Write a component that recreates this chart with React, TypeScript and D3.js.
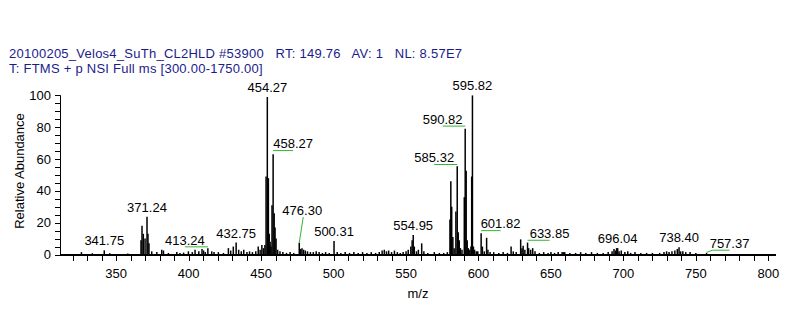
import React from "react";
import * as d3 from "d3";

const headerLine1 = "20100205_Velos4_SuTh_CL2HLD #53900   RT: 149.76   AV: 1   NL: 8.57E7";
const headerLine2 = "T: FTMS + p NSI Full ms [300.00-1750.00]";
const xAxisTitle = "m/z";
const yAxisTitle = "Relative Abundance";
const xMajorTicks = [350, 400, 450, 500, 550, 600, 650, 700, 750, 800];
const yMajorTicks = [0, 20, 40, 60, 80, 100];

const peakMz = [
  326.0, 333.5, 341.75, 345.5, 358, 367.1, 367.8, 368.7, 369.9, 371.24, 371.9, 372.6, 374.5, 378, 381.4, 382.6,
  386, 391.8, 394, 396.5, 399.8, 402.5, 404.4, 407, 409.2, 410.3, 411.5, 413.24, 415.9, 417.5, 420.5, 424,
  427.4, 429, 430.8, 432.75, 434.5, 436.3, 438, 440.2, 442, 444, 446.3, 448, 449.3, 450.5, 451.6, 452.6,
  453.4, 454.27, 455.0, 455.6, 456.2, 456.8, 457.5, 458.27, 459.0, 459.6, 460.3, 461.4, 463, 465, 467.5, 470,
  472.5, 476.3, 477.3, 478.2, 479.3, 480.5, 482, 484, 486, 488, 490, 492.3, 494.5, 497, 500.31, 502.5,
  505, 508, 511, 514, 517, 520, 523, 526, 529, 531.5, 533.5, 535, 536.5, 538, 540, 542,
  544, 546, 548, 550, 551.5, 553.3, 554.2, 554.95, 555.7, 557.2, 558.5, 560.8, 562.3, 565, 569.5, 573,
  576, 578.5, 580.3, 580.9, 581.5, 582.3, 583.2, 584.4, 585.32, 586.0, 586.7, 587.5, 588.6, 590.2, 590.82, 591.5,
  592.2, 593, 594, 594.8, 595.3, 595.82, 596.5, 597.3, 598.5, 599.5, 601.82, 602.7, 604, 605.6, 606.5, 608,
  610.5, 614, 617, 620, 622.5, 624, 626, 629.1, 630, 630.8, 632, 633.85, 634.6, 636, 637.4, 639,
  642, 645, 648, 650, 652.5, 655, 657.7, 658.7, 659.5, 663, 667, 670.5, 674, 678, 682, 686,
  689.5, 692.2, 693.5, 694.5, 695.3, 696.04, 697, 698.5, 701, 703, 705, 708, 712, 716, 720, 725,
  728, 729.8, 731.5, 733.5, 735.5, 737.2, 738.4, 739.5, 741, 743, 746, 750, 757.37,
];

const peakAbundance = [
  1.5, 0.8, 2.6, 0.8, 0.6, 9, 18, 13, 10, 23.7, 13, 7, 2, 1.5, 3, 2.5,
  1, 1.5, 1, 1.2, 2, 1.5, 3, 2, 3.5, 2.5, 1.5, 4, 2, 1.5, 1.5, 1,
  4, 2.5, 5, 7.5, 3, 2, 3, 1.5, 2, 1.5, 2, 5, 3, 6, 4, 6,
  49, 99, 48, 13, 8, 5, 31, 63, 26, 17, 10, 3, 2, 1.5, 1, 1.5,
  1, 7.4, 3.5, 4, 3, 2.5, 2, 1.5, 1.5, 2, 1.5, 1, 1.5, 1, 8.5, 1.5,
  1, 1.5, 1, 1.5, 1, 1.5, 1, 1.5, 1, 1.5, 2.5, 3, 2, 2.5, 1.5, 2.5,
  1.5, 1, 1.5, 2, 3, 5, 9, 12.2, 5, 2, 3, 7, 2, 1, 1.5, 1,
  1, 1.5, 22, 46, 30, 11, 4, 27, 55.5, 14, 9, 4, 3, 36, 79, 52.6,
  9, 4, 3, 5, 49, 100, 5, 3, 2, 2, 13.3, 5, 2, 10.5, 3, 1.5,
  1.5, 1, 1.5, 1, 5, 2, 1.5, 9.5, 4, 5.5, 3, 7.5, 4, 3, 4, 2,
  1, 1.5, 1, 1.5, 1, 1.5, 1.5, 1.5, 1.5, 1, 1, 1.5, 1, 1.5, 1, 1,
  1.5, 2, 3.5, 2.5, 4, 4, 2, 2.5, 1.5, 2, 1, 1.5, 1, 1, 1, 1,
  1.5, 2, 1.5, 2, 2.5, 3.5, 4.5, 2, 2, 1.5, 1.5, 1, 1,
];

const labeledMz = [
  341.75, 371.24, 413.24, 432.75, 454.27, 458.27, 476.3, 500.31, 554.95,
  585.32, 590.82, 595.82, 601.82, 633.85, 696.04, 738.4, 757.37,
];

// label placement (layout only, in px relative to the peak top)
const labelLayout: Record<string, { dx: number; dy: number; leader?: "h" | "slant" | "hook" }> = {
  "413.24": { dx: -23, dy: -3.6, leader: "h" },
  "458.27": { dx: 20, dy: -6, leader: "h" },
  "476.30": { dx: 3, dy: -28, leader: "slant" },
  "585.32": { dx: -23, dy: -4, leader: "h" },
  "590.82": { dx: -22.6, dy: -5, leader: "h" },
  "601.82": { dx: 19.4, dy: -5, leader: "h" },
  "633.85": { dx: 22, dy: -4.6, leader: "h" },
  "757.37": { dx: 23, dy: -5, leader: "hook" },
};

const W = 805;
const H = 316;
const FONT = "'Liberation Sans', Arial, sans-serif";
const HEADER_COLOR = "#1b1b8c";
const LEADER_COLOR = "#33b533";

export default function App() {
  const x = d3.scaleLinear().domain([311.2, 805.3]).range([60, 776]);
  const y = d3.scaleLinear().domain([0, 100]).range([254.5, 95.4]);

  const minorX = d3.range(320, 810, 10);
  const minorY = d3.range(0, 101, 5);

  const peaks = peakMz.map((m, i) => ({ m, v: peakAbundance[i] }));

  const labels = labeledMz.map((m) => {
    const idx = peakMz.findIndex((p) => Math.abs(p - m) < 1e-6);
    const v = peakAbundance[idx];
    const key = m.toFixed(2);
    const lay = labelLayout[key] || { dx: 0, dy: -5 };
    const px = x(m);
    const top = y(v);
    const lx = px + lay.dx;
    const by = top + lay.dy;
    let leader: string | null = null;
    const ly = by + 2.3;
    if (lay.leader === "h") leader = `M${px},${ly}L${lx},${ly}`;
    else if (lay.leader === "slant") leader = `M${px},${top}L${lx + 1},${ly}`;
    else if (lay.leader === "hook") leader = `M${px},${top - 0.5}L${px + 6},${ly}L${lx},${ly}`;
    return { key, lx, by, leader };
  });

  return (
    <svg
      width={W}
      height={H}
      style={{ position: "absolute", left: 0, top: 0, background: "#fff" }}
      fontFamily={FONT}
    >
      <rect x={0} y={0} width={W} height={H} fill="#fff" />
      <text x={9} y={58} fontSize={13} fill={HEADER_COLOR} letterSpacing={0.25} style={{ whiteSpace: "pre" }}>
        {headerLine1}
      </text>
      <text x={9} y={72.6} fontSize={13} fill={HEADER_COLOR} letterSpacing={0.25} style={{ whiteSpace: "pre" }}>
        {headerLine2}
      </text>

      {/* spectrum */}
      <g stroke="#000" strokeWidth={1.5}>
        {peaks.map((p, i) => (
          <line key={i} x1={x(p.m)} x2={x(p.m)} y1={y(0)} y2={y(p.v)} />
        ))}
      </g>

      {/* y axis */}
      <line x1={60.5} x2={60.5} y1={y(100)} y2={255} stroke="#000" strokeWidth={1} />
      <g stroke="#000" strokeWidth={1}>
        {minorY.map((t) => (
          <line key={t} x1={55} x2={60.5} y1={Math.round(y(t)) + 0.5} y2={Math.round(y(t)) + 0.5} />
        ))}
      </g>
      {yMajorTicks.map((t) => (
        <text key={t} x={51} y={y(t) + 4.6} fontSize={13} textAnchor="end" fill="#000">
          {t}
        </text>
      ))}
      <text
        transform={`translate(23.5,171) rotate(-90)`}
        fontSize={13}
        textAnchor="middle"
        fill="#000"
      >
        {yAxisTitle}
      </text>

      {/* x axis */}
      <line x1={60} x2={776} y1={255} y2={255} stroke="#000" strokeWidth={2} />
      <g stroke="#000" strokeWidth={1}>
        {minorX.map((t) => (
          <line key={t} x1={Math.round(x(t)) + 0.5} x2={Math.round(x(t)) + 0.5} y1={255} y2={261} />
        ))}
      </g>
      {xMajorTicks.map((t) => (
        <text key={t} x={x(t)} y={278} fontSize={13} textAnchor="middle" fill="#000">
          {t}
        </text>
      ))}
      <text x={418} y={297.5} fontSize={13} textAnchor="middle" fill="#000">
        {xAxisTitle}
      </text>

      {/* peak labels */}
      {labels.map((l) =>
        l.leader ? (
          <path key={"ld" + l.key} d={l.leader} stroke={LEADER_COLOR} strokeWidth={1} fill="none" />
        ) : null
      )}
      {labels.map((l) => (
        <text key={l.key} x={l.lx} y={l.by} fontSize={13} textAnchor="middle" fill="#000">
          {l.key}
        </text>
      ))}
    </svg>
  );
}
